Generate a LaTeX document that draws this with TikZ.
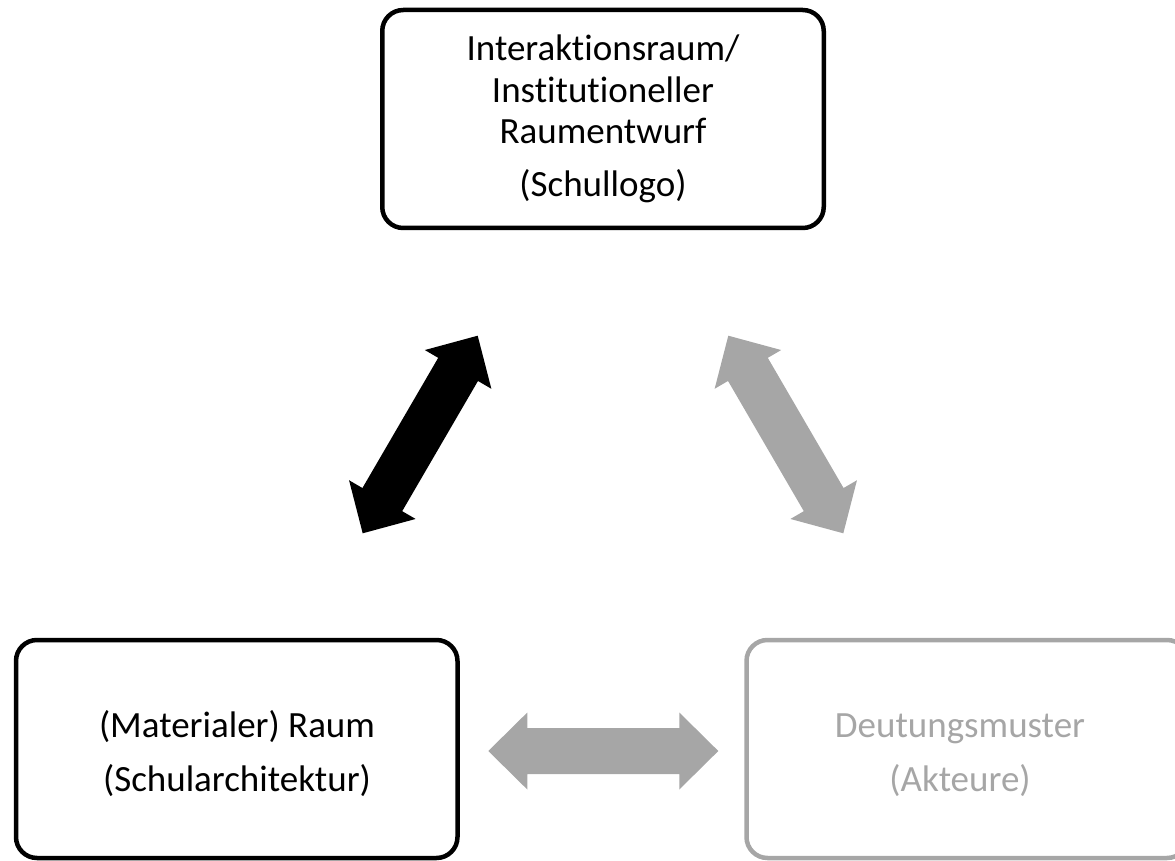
\documentclass[tikz,border=0pt]{standalone}
\usepackage{fontspec}
\setmainfont{Carlito}[Ligatures=NoCommon]
\usetikzlibrary{calc}
\definecolor{lgray}{HTML}{A6A6A6}
\newcommand\mydblarrow[3]{%
  \path ($(#1)!39pt!(#2)$) coordinate (#1h) ($(#2)!39pt!(#1)$) coordinate (#2h);
  \fill[#3] (#1) -- ($(#1h)!38.5pt!90:(#2)$) -- ($(#1h)!23pt!90:(#2)$)
    -- ($(#2h)!23pt!-90:(#1)$) -- ($(#2h)!38.5pt!-90:(#1)$) -- (#2)
    -- ($(#2h)!38.5pt!90:(#1)$) -- ($(#2h)!23pt!90:(#1)$)
    -- ($(#1h)!23pt!-90:(#2)$) -- ($(#1h)!38.5pt!-90:(#2)$) -- cycle;}
\begin{document}
\begin{tikzpicture}[x=1pt,y=-1pt,
  box/.style={draw, line width=4.5pt, rounded corners=21pt, minimum width=441.5pt, minimum height=218pt, inner sep=0pt},
  lbl/.style={font=\fontsize{37}{41.5}\selectfont, align=center, inner sep=0pt}
]
\useasboundingbox (0,0) rectangle (1175,861);
\node[box] (top) at (603,119) {};
\node[box] (bl) at (236.75,749) {};
\node[box, draw=lgray] (br) at (967.25,749) {};
\node[lbl, anchor=base] (ttxt) at (603,196.7) {Interaktionsraum/\\Institutioneller\\Raumentwurf\\[11.5pt](Schullogo)};
\node[lbl, anchor=base] (bltxt) at (237,791.7) {(Materialer) Raum\\[12.5pt](Schularchitektur)};
\node[lbl, anchor=base, text=lgray] (brtxt) at (960,791.7) {Deutungsmuster\\[12.5pt](Akteure)};
\coordinate (a1) at (362.7,533.3);
\coordinate (a2) at (477.7,335.7);
\coordinate (b1) at (728.3,335.7);
\coordinate (b2) at (843.3,533.3);
\coordinate (c1) at (488.3,751);
\coordinate (c2) at (718.3,751);
\mydblarrow{a1}{a2}{black}
\mydblarrow{b1}{b2}{lgray}
\mydblarrow{c1}{c2}{lgray}
\end{tikzpicture}
\end{document}
